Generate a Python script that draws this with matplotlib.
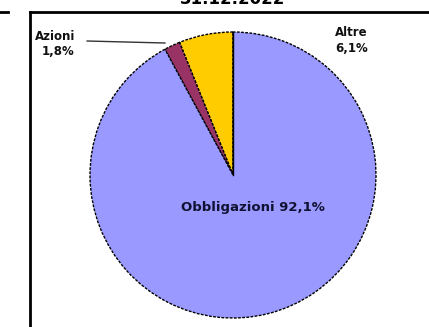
import matplotlib
matplotlib.use("Agg")
import matplotlib.pyplot as plt

# asset allocation at year end
labels = ["Obbligazioni", "Altre", "Azioni"]
shares = [92.1, 6.1, 1.8]
colors = ["#9999FF", "#FFCC00", "#993366"]
title = "31.12.2022"

W, H = 429, 327
fig = plt.figure(figsize=(W / 100, H / 100), dpi=100)

# outer frame: left and top border only
frame = fig.add_axes([30 / W, 0, 1 - 30 / W, 1 - 12 / H])
frame.set_xticks([]); frame.set_yticks([])
for side in ["right", "bottom"]:
    frame.spines[side].set_visible(False)
for side in ["left", "top"]:
    frame.spines[side].set_linewidth(2)

# neighbouring panel edge
side_panel = fig.add_axes([0, 0, 8 / W, 1 - 12 / H])
side_panel.set_xticks([]); side_panel.set_yticks([])
for side in ["right", "bottom", "left"]:
    side_panel.spines[side].set_visible(False)
side_panel.spines["top"].set_linewidth(2)
side_panel.patch.set_alpha(0)

fig.text(233 / W, 1 - 4 / H, title, ha="center", va="baseline",
         fontsize=12, fontweight="bold")

# slices go counterclockwise from the top: obbligazioni is drawn last
order = [1, 2, 0]
ax = fig.add_axes([90 / W, 9 / H, 286 / W, 286 / H])
wedges, _ = ax.pie([shares[i] for i in order], colors=[colors[i] for i in order],
                   startangle=90, counterclock=True,
                   wedgeprops=dict(edgecolor="black", linewidth=1, linestyle=(0, (2, 1))))
ax.set_xlim(-1, 1)
ax.set_ylim(-1, 1)
ax.set_aspect("equal")
ax.axis("off")
ax.plot([0, 0], [0, 1], color="black", linewidth=1)

def fmt(v):
    return f"{v:.1f}".replace(".", ",") + "%"

lab = dict(fontsize=8.5, fontweight="bold", color="#111111", clip_on=False, va="center")
ax.text(0.14, -0.227, f"{labels[0]} {fmt(shares[0])}", ha="center", va="center",
        fontsize=9.5, fontweight="bold", color="#111133")
ax.text(0.83, 1.0, labels[1], ha="center", **lab)
ax.text(0.83, 0.888, fmt(shares[1]), ha="center", **lab)
ax.text(-1.385, 0.972, labels[2], ha="left", **lab)
ax.text(-1.336, 0.867, fmt(shares[2]), ha="left", **lab)
ax.plot([-1.02, -0.476], [0.937, 0.923], color="#333333", linewidth=1, clip_on=False)

fig.savefig("out.png", dpi=100)
